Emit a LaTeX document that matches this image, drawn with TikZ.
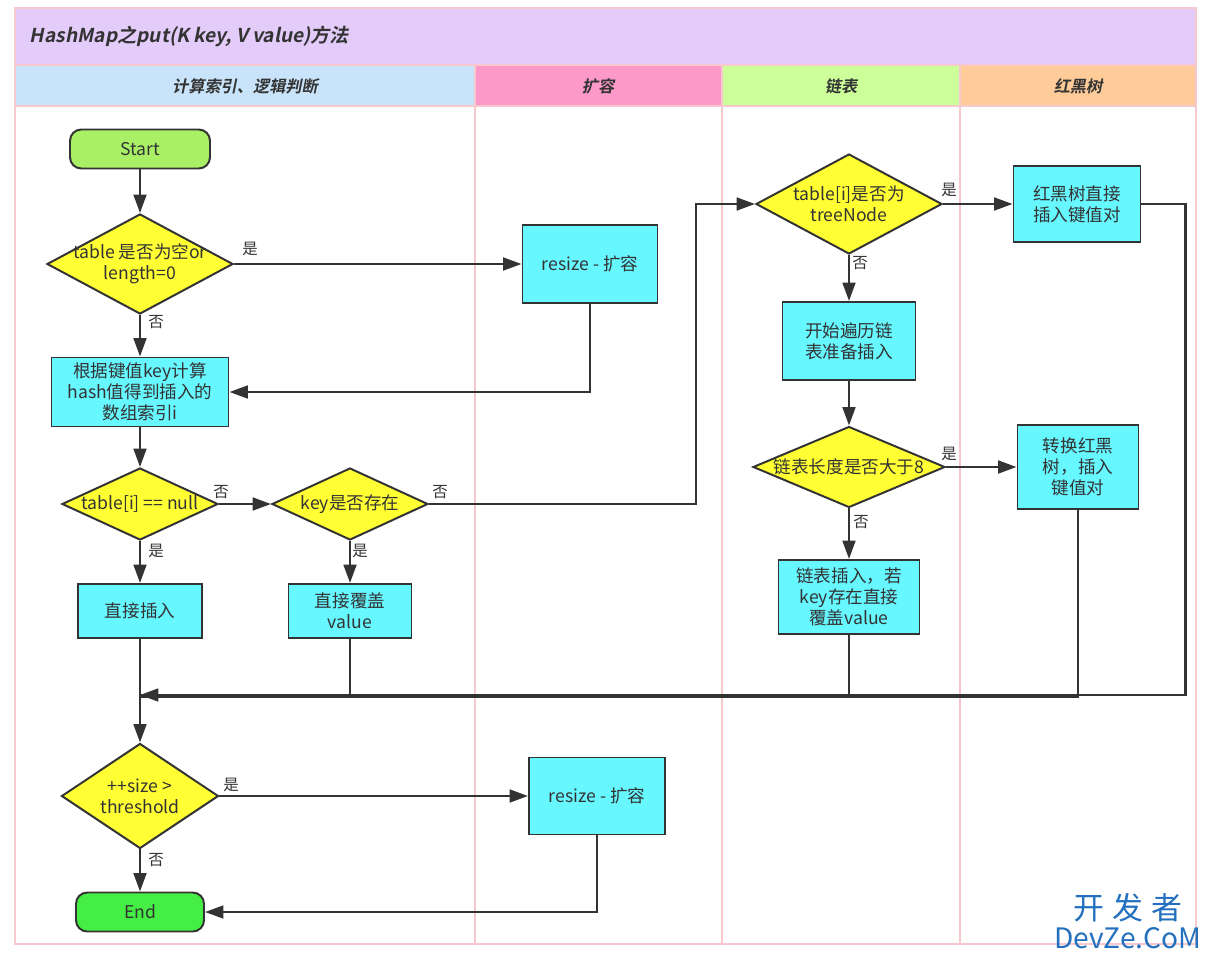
\documentclass[tikz,border=0pt]{standalone}
\usepackage{fontspec}
\setmainfont{Noto Sans CJK SC}
\newfontfamily\hdfont[FakeSlant=0.2]{Noto Sans CJK SC Bold}
\usetikzlibrary{arrows.meta,shapes.geometric}
\definecolor{linec}{HTML}{333333}
\definecolor{titlec}{HTML}{E4CCFA}
\definecolor{laneA}{HTML}{C9E4FA}
\definecolor{laneB}{HTML}{FD99C9}
\definecolor{laneC}{HTML}{CCFF99}
\definecolor{laneD}{HTML}{FFCC99}
\definecolor{framec}{HTML}{F7C8CD}
\definecolor{decy}{HTML}{FFFF33}
\definecolor{boxc}{HTML}{66F7FF}
\definecolor{startc}{HTML}{AAF066}
\definecolor{endc}{HTML}{44EE44}
\definecolor{markc}{HTML}{2370BE}
\tikzset{
  nodefont/.style={font=\fontsize{12.5}{14.8}\selectfont, text=linec},
  dec/.style={diamond, draw=linec, fill=decy, line width=1.4pt, inner sep=0pt, align=center, nodefont},
  proc/.style={rectangle, draw=linec, fill=boxc, line width=1.4pt, align=center, nodefont},
  term/.style={rectangle, rounded corners=8pt, draw=linec, line width=1.4pt, nodefont,
    minimum width=#1*0.025cm, minimum height=39*0.025cm},
  lbl/.style={font=\fontsize{11}{13}\selectfont, text=linec},
  flow/.style={draw=linec, line width=1.8pt},
  hd/.style={font=\hdfont\fontsize{11.5}{13}\selectfont, text=linec}
}
\begin{document}
\begin{tikzpicture}[x=0.025cm, y=-0.025cm, >={Triangle[length=13pt,width=9pt]}]
\useasboundingbox (0,0) rectangle (1211,960);
\fill[white] (0,0) rectangle (1211,960);
% title and lanes
\fill[titlec] (15,8) rectangle (1196,65);
\fill[laneA] (15,65) rectangle (475,106);
\fill[laneB] (475,65) rectangle (722,106);
\fill[laneC] (722,65) rectangle (960,106);
\fill[laneD] (960,65) rectangle (1196,106);
\draw[framec, line width=1pt] (15,8) rectangle (1196,944);
\foreach \x in {475,722,960} \draw[framec, line width=1pt] (\x,65) -- (\x,944);
\draw[framec, line width=1pt] (15,65) -- (1196,65) (15,106) -- (1196,106);
\node[anchor=west, font=\hdfont\fontsize{13.6}{16}\selectfont, text=linec] (title) at (25,36) {HashMap之put(K key, V value)方法};
\node[hd] (hA) at (245,86) {计算索引、逻辑判断};
\node[hd] (hB) at (598,86) {扩容};
\node[hd] (hC) at (841,86) {链表};
\node[hd] (hD) at (1078,86) {红黑树};

% nodes
\node[term=140, fill=startc] (start) at (140,149) {Start};
\node[dec, minimum width=186*0.025cm, minimum height=100*0.025cm, aspect=1.86, inner sep=-4pt] (d1) at (140,264) {table 是否为空or\\length=0};
\node[proc, minimum width=135*0.025cm, minimum height=78*0.025cm] (rs1) at (590,264) {resize - 扩容};
\node[proc, minimum width=177*0.025cm, minimum height=69*0.025cm, inner sep=1pt] (hash) at (140,392) {根据键值key计算\\hash值得到插入的\\数组索引i};
\node[dec, minimum width=156*0.025cm, minimum height=72*0.025cm, aspect=2.17, inner sep=-1pt] (d2) at (140,504) {table[i] == null};
\node[dec, minimum width=156*0.025cm, minimum height=72*0.025cm, aspect=2.17] (d3) at (350,504) {key是否存在};
\node[proc, minimum width=124*0.025cm, minimum height=54*0.025cm] (ins) at (140,611) {直接插入};
\node[proc, minimum width=123*0.025cm, minimum height=54*0.025cm] (ovr) at (350,611) {直接覆盖\\value};
\node[dec, minimum width=186*0.025cm, minimum height=100*0.025cm, aspect=1.86] (dtree) at (849,204) {table[i]是否为\\treeNode};
\node[proc, minimum width=127*0.025cm, minimum height=76*0.025cm] (rbt) at (1077,204) {红黑树直接\\插入键值对};
\node[proc, minimum width=133*0.025cm, minimum height=78*0.025cm] (walk) at (849,341) {开始遍历链\\表准备插入};
\node[dec, minimum width=192*0.025cm, minimum height=81*0.025cm, aspect=2.37, inner sep=-1pt] (dlen) at (849,467) {链表长度是否大于8};
\node[proc, minimum width=121*0.025cm, minimum height=84*0.025cm] (conv) at (1078,467) {转换红黑\\树，插入\\键值对};
\node[proc, minimum width=141*0.025cm, minimum height=74*0.025cm, inner sep=1pt] (lins) at (849,597) {链表插入，若\\key存在直接\\覆盖value};
\node[dec, minimum width=157*0.025cm, minimum height=105*0.025cm, aspect=1.5] (dthr) at (140,796) {++size >\\threshold};
\node[proc, minimum width=136*0.025cm, minimum height=77*0.025cm] (rs2) at (597,796) {resize - 扩容};
\node[term=128, fill=endc] (end) at (140,912) {End};
\coordinate (mg) at (140,695);

% connectors
\draw[flow, ->] (start) -- (d1);
\draw[flow, ->] (d1.east) -- (rs1.west);
\draw[flow, ->] (d1.south) -- (hash.north);
\draw[flow, ->] (rs1.south) |- (hash.east);
\draw[flow, ->] (hash.south) -- (d2.north);
\draw[flow, ->] (d2.east) -- (d3.west);
\draw[flow, ->] (d2.south) -- (ins.north);
\draw[flow, ->] (d3.south) -- (ovr.north);
\draw[flow, ->] (d3.east) -- ++(267,0) |- (dtree.west);
\draw[flow, ->] (dtree.east) -- (rbt.west);
\draw[flow, ->] (dtree.south) -- (walk.north);
\draw[flow, ->] (walk.south) -- (dlen.north);
\draw[flow, ->] (dlen.east) -- (conv.west);
\draw[flow, ->] (dlen.south) -- (lins.north);
\draw[flow] (rbt.east) -- ++(44,0) |- (mg);
\draw[flow] (conv.south) |- ([yshift=-1.5pt]mg);
\draw[flow] (lins.south) |- (mg);
\draw[flow, ->] (ovr.south) |- (mg);
\draw[flow, ->] (ins.south) -- (dthr.north);
\draw[flow, ->] (dthr.east) -- (rs2.west);
\draw[flow, ->] (dthr.south) -- (end.north);
\draw[flow, ->] (rs2.south) |- (end.east);

% labels
\node[lbl] (l1) at (250,249) {是};
\node[lbl] (l2) at (156,322) {否};
\node[lbl] (l3) at (221,492) {否};
\node[lbl] (l4) at (156,551) {是};
\node[lbl] (l5) at (360,551) {是};
\node[lbl] (l6) at (440,492) {否};
\node[lbl] (l7) at (949,190) {是};
\node[lbl] (l8) at (860,263) {否};
\node[lbl] (l9) at (949,454) {是};
\node[lbl] (l10) at (861,522) {否};
\node[lbl] (l11) at (231,785) {是};
\node[lbl] (l12) at (156,860) {否};

% watermark
\node[text=markc, font=\fontsize{22}{24}\selectfont] (wm1) at (1128,908) {开\hspace{6pt}发\hspace{6pt}者};
\node[text=markc, font=\fontsize{20}{22}\selectfont] (wm2) at (1128,938) {DevZe.CoM};
\end{tikzpicture}
\end{document}
